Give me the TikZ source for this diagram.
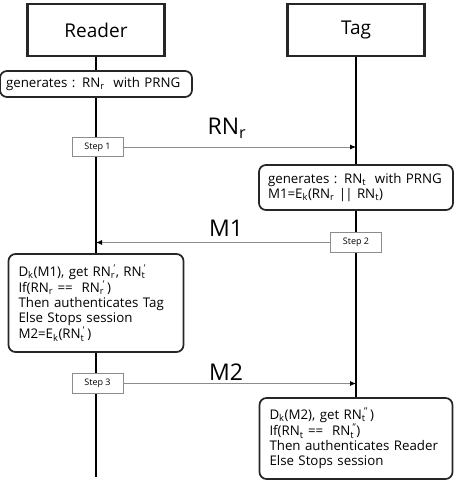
\documentclass[tikz,border=0pt]{standalone}
\usepackage{fontspec}
\setmainfont{Open Sans}
\usetikzlibrary{arrows.meta,backgrounds}
\newcommand{\sbs}[1]{\textsubscript{#1}}
\newcommand{\sbsp}[2]{\textsubscript{#1}\kern-1.5pt\textsuperscript{#2}}
\tikzset{
  actor/.style={draw=black!85,line width=2.4pt,fill=white,minimum width=137pt,minimum height=52pt,inner sep=0pt,font=\fontsize{19}{21}\selectfont},
  note/.style={draw=black!85,line width=1.7pt,fill=white,rounded corners=7pt,align=left,inner ysep=3pt,font=\fontsize{13.3}{15}\selectfont},
  stepbox/.style={draw=black!45,line width=0.7pt,fill=white,minimum width=51pt,minimum height=19.5pt,inner sep=0pt,font=\fontsize{9}{10}\selectfont},
  lifeline/.style={line width=2.5pt,black},
  msg/.style={draw=black!45,line width=0.8pt,-{Latex[length=6pt,width=5pt,black]}},
  msglabel/.style={font=\fontsize{23}{25}\selectfont,inner sep=0pt}
}
\begin{document}
\begin{tikzpicture}[x=1pt,y=-1pt]
\useasboundingbox (0,0) rectangle (455,481);
\node[actor] (reader) at (96,30) {Reader};
\node[actor] (tag) at (356,30) {Tag};
\node[note,minimum width=192pt,minimum height=26pt,text width=180pt,inner xsep=6pt] (gen1) at (96,84) {generates : RN\sbs{r}\ \ with PRNG};
\node[stepbox] (step1) at (97.5,147) {Step 1};
\node[msglabel] (l1) at (227,128) {RN\sbs{r}};
\node[note,minimum width=194pt,minimum height=45pt,text width=176pt,inner xsep=9pt] (box2) at (356,187.5) {generates : RN\sbs{t}\ \ with PRNG\\M1=E\sbs{k}(RN\sbs{r} {\raisebox{-0.5pt}{\textbar\kern-1pt\textbar}} RN\sbs{t})};
\node[stepbox] (step2) at (356,242.5) {Step 2};
\node[msglabel] (l2) at (226,228) {M1};
\node[note,minimum width=175pt,minimum height=98pt,text width=155pt,inner xsep=10pt] (box3) at (96,303) {D\sbs{k}(M1), get RN\sbsp{r}{'}, RN\sbsp{t}{'}\\If(RN\sbs{r} == \ RN\sbsp{r}{'}\,)\\Then authenticates Tag\\Else Stops session\\M2=E\sbs{k}(RN\sbsp{t}{'}\,)};
\node[stepbox] (step3) at (97.5,383.5) {Step 3};
\node[msglabel] (l3) at (226,372) {M2};
\node[note,minimum width=193pt,minimum height=81pt,text width=173pt,inner xsep=10pt] (box4) at (356,438.5) {D\sbs{k}(M2), get RN\sbsp{t}{''}\,)\\If(RN\sbs{t} == \ RN\sbsp{t}{''})\\Then authenticates Reader\\Else Stops session};
\coordinate (rend) at (96,477);
\begin{scope}[on background layer]
  \draw[lifeline] (reader.south) -- (rend);
  \draw[lifeline] (tag.south) -- (box4.north);
\end{scope}
\draw[msg] (step1.east) -- (step1.east -| tag.south);
\draw[msg] (step2.west) -- (step2.west -| reader.south);
\draw[msg] (step3.east) -- (step3.east -| tag.south);
\end{tikzpicture}
\end{document}
